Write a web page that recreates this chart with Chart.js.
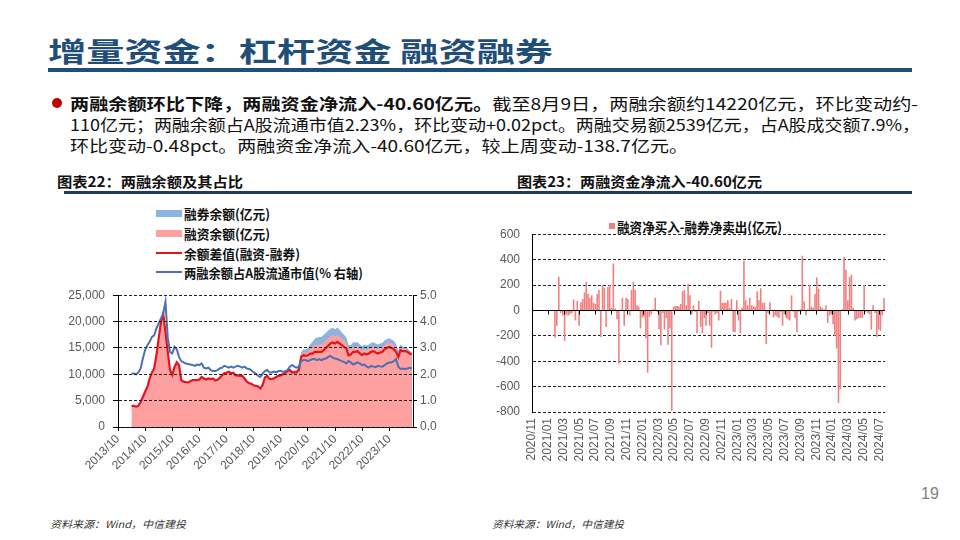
<!DOCTYPE html>
<html><head><meta charset="utf-8">
<script src="https://cdn.jsdelivr.net/npm/chart.js@4.4.1/dist/chart.umd.min.js"></script>
<style>
html,body{margin:0;padding:0;background:#fff;}
#page{position:relative;width:960px;height:540px;overflow:hidden;font-family:"Noto Sans CJK SC","Noto Sans",sans-serif;color:#111;}
.t{position:absolute;white-space:nowrap;transform-origin:0 50%;line-height:1;}
.bar{position:absolute;}
canvas{position:absolute;}
.lg{position:absolute;height:16px;display:flex;align-items:center;}
.lg .m{display:inline-block;width:26px;margin-right:2px;}
.lg .tx{font-weight:700;font-size:13px;white-space:nowrap;transform-origin:0 50%;display:inline-block;line-height:1;}
</style></head>
<body><div id="page">
  <div class="t" id="title" style="left:48px;top:37px;font-size:27px;font-weight:700;color:#1F4E78;">增量资金：杠杆资金 融资融券</div>
  <div class="bar" style="left:48px;top:68px;width:864px;height:4px;background:#1F4E78;"></div>
  <div class="bar" style="left:52px;top:98px;width:10px;height:10px;border-radius:50%;background:#C00000;"></div>
  <div class="t" id="p1" style="left:70px;top:95px;font-size:16px;"><b>两融余额环比下降，两融资金净流入-40.60亿元。</b>截至8月9日，两融余额约14220亿元，环比变动约-</div>
  <div class="t" id="p2" style="left:70px;top:116px;font-size:16px;">110亿元；两融余额占A股流通市值2.23%，环比变动+0.02pct。两融交易额2539亿元，占A股成交额7.9%，</div>
  <div class="t" id="p3" style="left:70px;top:137px;font-size:16px;">环比变动-0.48pct。两融资金净流入-40.60亿元，较上周变动-138.7亿元。</div>
  <div class="t" id="ct1" style="left:57px;top:174px;font-size:14px;font-weight:700;">图表22：两融余额及其占比</div>
  <div class="t" id="ct2" style="left:517px;top:174px;font-size:14px;font-weight:700;">图表23：两融资金净流入-40.60亿元</div>
  <div class="bar" style="left:64px;top:191px;width:848px;height:2.5px;background:#1F3864;"></div>

  <div class="lg" style="left:156px;top:205px;"><span class="m" style="height:7px;background:#8CB4E1;"></span><span class="tx" id="lg1">融券余额(亿元)</span></div>
  <div class="lg" style="left:156px;top:225px;"><span class="m" style="height:7px;background:#FFA0A0;"></span><span class="tx" id="lg2">融资余额(亿元)</span></div>
  <div class="lg" style="left:156px;top:245px;"><span class="m" style="height:2px;background:#E3141B;"></span><span class="tx" id="lg3">余额差值(融资-融券)</span></div>
  <div class="lg" style="left:156px;top:264px;"><span class="m" style="height:2px;background:#4A70B8;"></span><span class="tx" id="lg4">两融余额占A股流通市值(% 右轴)</span></div>

  <div class="bar" style="left:609px;top:223px;width:6px;height:6px;background:#F08080;"></div>
  <div class="t" id="lg5" style="left:617px;top:220px;font-size:13px;font-weight:700;">融资净买入-融券净卖出(亿元)</div>

  <canvas id="c1" width="420" height="210" style="left:40px;top:280px;width:420px;height:210px;"></canvas>
  <canvas id="c2" width="420" height="265" style="left:480px;top:215px;width:420px;height:265px;"></canvas>

  <div class="t" id="f1" style="left:50px;top:519px;font-size:10px;font-style:italic;color:#333;">资料来源：Wind，中信建投</div>
  <div class="t" id="f2" style="left:492px;top:519px;font-size:10px;font-style:italic;color:#333;">资料来源：Wind，中信建投</div>
  <div class="t" style="left:921px;top:486px;font-size:16px;color:#808080;font-family:'Liberation Sans',Arial,sans-serif;">19</div>
</div>
<script>
// ---------- Chart 22 data (monthly, from 2014/04) ----------
const balStart = '2014/04';
const leftXTicks = ['2013/10','2014/10','2015/10','2016/10','2017/10','2018/10','2019/10','2020/10','2021/10','2022/10','2023/10'];
// 融资余额 (亿元)
const financingBal = [
  4040,4045,3900,4055,4860,5765,6770,7675,9270,
  10380,11190,13700,16910,20000,21590,18040,14330,10825,9875,11430,12280,
  11725,8925,8625,8530,8480,8730,8930,8930,8930,9030,9530,9235,
  9040,9245,9150,9250,8850,9000,9355,9860,10260,10360,10560,10260,
  10360,9865,9870,9770,9770,9270,8665,8365,8265,7960,7860,7760,
  7370,8080,9490,9800,9210,9210,9310,9610,9820,9930,10140,10450,
  10770,10980,10530,10540,10550,11100,13750,14150,14100,14300,14800,15000,
  15510,15610,15660,15660,16030,16450,16850,17240,17430,17190,17500,17140,
  16720,16350,15950,14550,14650,15160,15160,15240,14800,14480,14800,14600,
  14800,15110,15240,14980,14800,14980,15110,15620,15850,16020,15800,15570,
  15010,13900,15130,14840,14790,14610,14200,13950
];
// 融券余额 (亿元)
const lendingBal = [
  40,45,50,55,60,65,70,75,70,
  80,90,100,110,100,90,40,30,25,25,30,30,
  25,25,25,30,30,30,30,30,30,30,30,35,
  40,45,50,50,50,50,55,60,60,60,60,60,
  60,65,70,70,70,70,65,65,65,60,60,60,
  70,80,90,100,110,110,110,110,120,130,140,150,
  170,180,180,190,200,300,450,550,600,700,900,1100,
  1250,1350,1400,1400,1450,1450,1450,1400,1400,1350,1350,1300,
  1200,1150,1050,950,900,900,900,850,850,850,850,850,
  850,850,850,850,850,850,850,850,850,820,800,800,
  750,600,550,450,400,350,250,200
];
// 两融余额占A股流通市值 (%)
const marginRatio = [
  2.03,2.03,2.0,2.07,2.22,2.6,2.92,3.1,3.23,
  3.42,3.48,3.74,3.93,4.12,4.3,4.75,3.4,2.85,2.79,3.04,2.95,
  2.66,2.5,2.45,2.41,2.39,2.37,2.35,2.32,2.37,2.35,2.41,2.25,
  2.22,2.25,2.16,2.12,2.12,2.16,2.22,2.25,2.32,2.29,2.25,2.29,
  2.25,2.29,2.32,2.29,2.25,2.29,2.22,2.2,2.15,2.07,2.03,1.94,
  1.9,2.03,2.12,2.16,2.07,2.07,2.1,2.07,2.12,2.12,2.1,2.12,
  2.16,2.29,2.35,2.29,2.25,2.29,2.5,2.54,2.54,2.5,2.54,2.58,
  2.58,2.54,2.58,2.54,2.58,2.6,2.66,2.7,2.63,2.6,2.58,2.54,
  2.5,2.47,2.41,2.5,2.45,2.37,2.41,2.45,2.41,2.35,2.37,2.29,
  2.25,2.32,2.29,2.27,2.32,2.3,2.29,2.35,2.41,2.45,2.45,2.5,
  2.58,2.29,2.2,2.22,2.2,2.22,2.25,2.23
];

// ---------- Chart 23 data (weekly) ----------
const flowStart = '2021-01-29';
const rightXTicks = ['2020/11','2021/01','2021/03','2021/05','2021/07','2021/09','2021/11','2022/01','2022/03','2022/05','2022/07','2022/09','2022/11','2023/01','2023/03','2023/05','2023/07','2023/09','2023/11','2024/01','2024/03','2024/05','2024/07'];
// 融资净买入-融券净卖出 (亿元)
const netFlow = [
  -215,-120,265,-20,-40,-240,-35,-40,-30,-20,
  85,-80,75,-120,65,90,140,225,130,100,
  120,60,50,130,160,-210,200,180,-130,185,
  200,20,370,15,-70,-420,5,100,-120,100,
  90,-40,160,225,160,40,30,-140,-55,-50,
  -220,-490,-50,-30,10,100,-10,-150,-275,-20,
  -150,-60,-270,-140,-790,30,35,35,30,50,
  150,160,40,210,120,-30,40,-10,-180,75,
  -130,-180,-60,-120,-20,-120,-295,-10,-30,-20,
  -80,155,60,60,60,80,20,90,-170,-170,
  80,-80,-180,20,390,80,40,100,40,30,
  30,150,80,175,60,60,-265,-20,65,-5,
  -55,-40,-50,-60,-15,-120,-30,-60,-70,-80,
  120,-10,-60,-170,-10,10,430,70,-40,10,
  200,30,20,130,260,170,30,20,10,40,
  -100,-40,-30,-110,-200,-300,-730,-620,10,420,
  320,80,265,280,20,-80,-70,-60,-60,-60,
  200,-10,-20,-30,-150,40,-20,-210,-150,-160,
  -40,98.1,-40.6
];

// ---------- build ----------
function ymIndex(ym, base){ const [y,m]=ym.split('/').map(Number); const [by,bm]=base.split('/').map(Number); return (y-by)*12+(m-bm); }
const x0 = ymIndex(balStart, leftXTicks[0]);
const pts = arr => arr.map((v,i)=>({x:x0+i, y:v}));
const diffBal = financingBal.map((v,i)=>v-lendingBal[i]);
const totalBal = financingBal.map((v,i)=>v+lendingBal[i]);

const tickFont = {family:"'Liberation Sans', Arial, sans-serif", size:12};
const tickColor = '#595959';

new Chart(document.getElementById('c1'), {
  type:'line',
  data:{datasets:[
    {data:pts(marginRatio), yAxisID:'y2', borderColor:'#4A70B8', borderWidth:2, pointRadius:0, fill:false, tension:0},
    {data:pts(diffBal), yAxisID:'y', borderColor:'#E3141B', borderWidth:2.2, pointRadius:0, fill:false, tension:0},
    {data:pts(financingBal), yAxisID:'y', borderWidth:0, borderColor:'rgba(0,0,0,0)', backgroundColor:'#FFA0A0', pointRadius:0, fill:'origin', tension:0},
    {data:pts(totalBal), yAxisID:'y', borderWidth:0, borderColor:'rgba(0,0,0,0)', backgroundColor:'#8CB4E1', pointRadius:0, fill:'origin', tension:0}
  ]},
  options:{
    responsive:false, animation:false, events:[],
    layout:{padding:{top:15,left:0,right:0,bottom:0}},
    plugins:{legend:{display:false}, tooltip:{enabled:false}},
    scales:{
      x:{type:'linear', min:0, max:130.5,
        ticks:{stepSize:12, includeBounds:false, autoSkip:false, minRotation:45, maxRotation:45, padding:1, color:tickColor, font:tickFont,
          callback:v=>leftXTicks[Math.round(v/12)] ?? ''},
        grid:{display:true, drawOnChartArea:false, drawTicks:true, tickLength:4, tickColor:'#000'},
        border:{display:true, color:'#000', width:1, z:1},
        afterFit:s=>{s.height=63;}
      },
      y:{position:'left', min:0, max:25000,
        ticks:{stepSize:5000, padding:8, color:tickColor, font:tickFont, callback:v=>v.toLocaleString('en-US')},
        grid:{color:'#222', lineWidth:1, drawTicks:true, tickLength:5, tickColor:'#000', z:1},
        border:{display:true, color:'#000', width:1, dash:[3,2], z:1},
        afterFit:s=>{s.width=78;}
      },
      y2:{position:'right', min:0, max:5,
        ticks:{stepSize:1, padding:3, color:tickColor, font:tickFont, callback:v=>v.toFixed(1)},
        grid:{drawOnChartArea:false, drawTicks:true, tickLength:4, tickColor:'#000', z:1},
        border:{display:true, color:'#000', width:1, z:1},
        afterFit:s=>{s.width=47;}
      }
    }
  }
});

// weekly bars
const [fy,fm,fd] = flowStart.split('-').map(Number);
const [ty,tm] = rightXTicks[0].split('/').map(Number);
const flowPts = netFlow.map((v,k)=>{
  const d = new Date(Date.UTC(fy, fm-1, fd + 7*k));
  const dim = new Date(Date.UTC(d.getUTCFullYear(), d.getUTCMonth()+1, 0)).getUTCDate();
  const x = (d.getUTCFullYear()-ty)*12 + (d.getUTCMonth()+1-tm) + (d.getUTCDate()-1)/dim;
  return {x, y:v};
});

const zeroLine = {id:'zeroLine', afterDatasetsDraw(chart){
  const {ctx, chartArea:a, scales:{x,y}} = chart;
  const y0 = Math.round(y.getPixelForValue(0))+0.5;
  ctx.save(); ctx.strokeStyle='#000'; ctx.lineWidth=1; ctx.beginPath();
  ctx.moveTo(a.left,y0); ctx.lineTo(a.right,y0);
  x.ticks.forEach(t=>{const px=Math.round(x.getPixelForValue(t.value))+0.5; ctx.moveTo(px,y0); ctx.lineTo(px,y0+4);});
  ctx.stroke(); ctx.restore();
}};

new Chart(document.getElementById('c2'), {
  type:'bar',
  data:{datasets:[{data:flowPts, backgroundColor:'#F08080', borderWidth:0, barPercentage:0.95, categoryPercentage:0.95}]},
  options:{
    responsive:false, animation:false, events:[],
    layout:{padding:{top:14,right:10,left:0,bottom:0}},
    plugins:{legend:{display:false}, tooltip:{enabled:false}},
    scales:{
      x:{type:'linear', min:0, max:44.7, offset:false,
        ticks:{stepSize:2, includeBounds:false, autoSkip:false, minRotation:90, maxRotation:90, padding:6, color:tickColor, font:tickFont,
          callback:v=>rightXTicks[Math.round(v/2)] ?? ''},
        grid:{display:false, offset:false, drawTicks:false},
        border:{display:false},
        afterFit:s=>{s.height=68;}
      },
      y:{min:-800, max:600,
        ticks:{stepSize:200, padding:12, color:tickColor, font:tickFont},
        grid:{color:'#222', lineWidth:1, drawTicks:false},
        border:{display:true, color:'#000', width:1, dash:[3,2]},
        afterFit:s=>{s.width=52;}
      }
    }
  },
  plugins:[zeroLine]
});

// ---------- fit texts to reference widths ----------
function fit(id, w){ const el=document.getElementById(id); const nat=el.getBoundingClientRect().width; const s=w/nat; el.style.transform='scaleX('+s+')'; return s; }
function fitAll(){
  fit('title',505);
  fit('p1',848);
  fit('p2',850);
  fit('p3',618);
  fit('ct1',186);
  fit('ct2',245);
  fit('lg1',86); fit('lg2',86); fit('lg3',116); fit('lg4',179);
  fit('lg5',165);
  fit('f1',136); fit('f2',132);
}
if (document.fonts && document.fonts.ready) document.fonts.ready.then(fitAll); else fitAll();
</script>
</body></html>
